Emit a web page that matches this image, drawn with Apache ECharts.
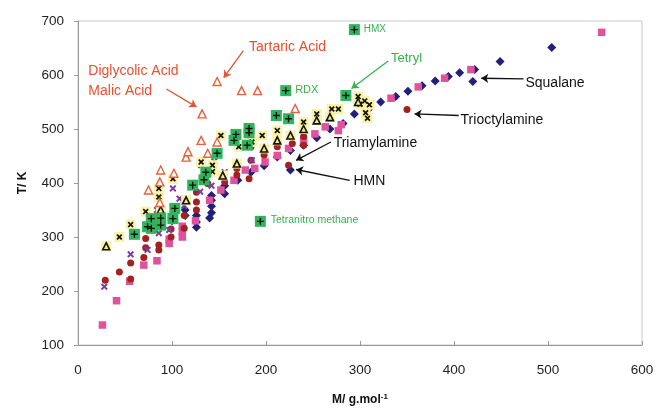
<!DOCTYPE html>
<html>
<head>
<meta charset="utf-8">
<script src="https://cdn.jsdelivr.net/npm/echarts@6/dist/echarts.min.js"></script>
<style>
  html, body { margin: 0; padding: 0; background: #fff; }
  #chart { width: 658px; height: 412px; }
</style>
</head>
<body>
<div id="chart"></div>
<script>
// [M g/mol, T K]
const navyDiamonds = [
  [100, 330], [114, 340], [114, 350], [126, 318], [126, 328], [126, 340], [140, 335], [142, 345],
  [142, 357], [142, 368], [142, 377], [156, 380], [156, 395], [170, 405], [184, 420], [198, 432],
  [212, 448], [226, 424], [226, 460], [240, 470], [254, 484], [268, 500], [282, 510], [294, 528],
  [310, 538], [322, 550], [338, 560], [351, 570], [366, 580], [380, 589], [394, 597], [406, 604],
  [420, 588], [422, 610], [449, 625], [504, 651]
];
const pinkSquares = [
  [26, 137], [41, 182], [55, 218], [70, 248], [84, 256], [97, 288], [97, 296], [111, 300],
  [111, 310], [111, 320], [125, 330], [140, 368], [152, 387], [166, 405], [178, 424], [188, 427],
  [199, 439], [212, 451], [224, 464], [240, 479], [252, 491], [263, 504], [277, 497], [280, 508],
  [307, 540], [333, 557], [362, 578], [390, 594], [418, 610], [557, 679]
];
const redCircles = [
  [29, 220], [44, 235], [56, 222], [56, 252], [70, 262], [72, 280], [72, 297], [86, 276],
  [86, 285], [99, 300], [99, 315], [99, 335], [113, 316], [113, 340], [113, 365], [126, 350],
  [126, 365], [126, 383], [138, 399], [156, 402], [169, 415], [169, 427], [182, 408], [184, 442],
  [184, 467], [198, 452], [212, 467], [224, 433], [228, 473], [240, 470], [240, 486], [350, 536]
];
const purpleCrosses = [
  [28, 208], [56, 268], [74, 276], [86, 307], [84, 350], [84, 375], [97, 313], [101, 390],
  [108, 371], [113, 358], [130, 384], [131, 433], [142, 395], [145, 440], [156, 420], [185, 442]
];
const blackCrosses = [
  [44, 300], [56, 323], [72, 347], [86, 374], [86, 390], [101, 408], [131, 439], [143, 421],
  [143, 433], [152, 488], [171, 467], [185, 476], [196, 488], [212, 497], [240, 513], [254, 528],
  [270, 537], [277, 537], [298, 560], [300, 546], [305, 552], [310, 545], [306, 530], [308, 520]
];
const blackTriangles = [
  [30, 283], [88, 350], [115, 368], [154, 414], [169, 436], [198, 464], [212, 479], [226, 488],
  [240, 500], [254, 516], [268, 522], [298, 550]
];
const orangeTriangles = [
  [75, 387], [87, 402], [87, 364], [88, 424], [102, 418], [115, 448], [117, 458], [131, 479],
  [132, 528], [138, 455], [148, 476], [148, 588], [174, 571], [191, 571], [231, 538]
];
const greenSquares = [
  [60, 305], [74, 319], [78, 316], [78, 334], [88, 322], [88, 335], [101, 334], [103, 353],
  [122, 396], [134, 406], [136, 420], [148, 455], [166, 479], [168, 490], [180, 470], [182, 493],
  [182, 501], [194, 329], [211, 525], [221, 571], [224, 519], [285, 562], [294, 684]
];

const xTicks = [0, 100, 200, 300, 400, 500, 600];
const yTicks = [100, 200, 300, 400, 500, 600, 700];

// annotation texts: [x, y, text, colour, size]
const RED = '#e8502f', GREEN = '#35b24f', BLACK = '#111';
const notes = [
  [182, 652, 'Tartaric Acid', RED, 14],
  [11, 608, 'Diglycolic Acid', RED, 14],
  [11, 571, 'Malic Acid', RED, 14],
  [231, 572, 'RDX', GREEN, 11],
  [304, 685, 'HMX', GREEN, 10],
  [333, 630, 'Tetryl', GREEN, 13],
  [476, 584, 'Squalane', BLACK, 14],
  [407, 517, 'Trioctylamine', BLACK, 14],
  [272, 473, 'Triamylamine', BLACK, 14],
  [293, 403, 'HMN', BLACK, 14],
  [205, 331, 'Tetranitro methane', GREEN, 10.5]
];
const arrows = [
  [[176, 645], [155, 595], RED],
  [[94, 574], [126, 541], RED],
  [[330, 626], [291, 575], GREEN],
  [[474, 593], [429, 594], BLACK],
  [[405, 525], [358, 528], BLACK],
  [[269, 476], [232, 442], BLACK],
  [[289, 405], [232, 425], BLACK]
];

const X_PATH = 'path://M2,0 L5,3 L8,0 L10,2 L7,5 L10,8 L8,10 L5,7 L2,10 L0,8 L3,5 L0,2 Z';
const PLUS_PATH = 'path://M4,0 H6 V4 H10 V6 H6 V10 H4 V6 H0 V4 H4 Z';
const FONT = 'Liberation Sans, Arial, sans-serif';

function dots(data, symbol, size, style) {
  return { type: 'scatter', data, symbol, symbolSize: size, itemStyle: Object.assign({ opacity: 1 }, style) };
}

const chart = echarts.init(document.getElementById('chart'));
chart.setOption({
  animation: false,
  textStyle: { fontFamily: FONT },
  grid: { left: 78, right: 16, top: 21, bottom: 67, show: true, borderColor: '#c8c8c8', borderWidth: 1 },
  xAxis: {
    type: 'value', min: xTicks[0], max: xTicks[xTicks.length - 1], interval: 100,
    name: '{a|M/ g.mol}{b|-1}', nameLocation: 'middle', nameGap: 48,
    nameTextStyle: {
      rich: {
        a: { fontSize: 12, fontWeight: 'bold', color: '#111', fontFamily: FONT },
        b: { fontSize: 8, fontWeight: 'bold', color: '#111', fontFamily: FONT, verticalAlign: 'top', padding: [0, 0, 6, 0] }
      }
    },
    axisLine: { lineStyle: { color: '#999' } },
    axisTick: { inside: true, length: 4, lineStyle: { color: '#999' } },
    axisLabel: { fontSize: 13.5, color: '#222', margin: 18 },
    splitLine: { show: false }
  },
  yAxis: {
    type: 'value', min: yTicks[0], max: yTicks[yTicks.length - 1], interval: 100,
    name: 'T/ K', nameLocation: 'middle', nameGap: 49,
    nameTextStyle: { fontSize: 12, fontWeight: 'bold', color: '#111' },
    axisLine: { show: true, lineStyle: { color: '#999' } },
    axisTick: { show: true, length: 4, lineStyle: { color: '#999' } },
    axisLabel: { fontSize: 13.5, color: '#222', margin: 14 },
    splitLine: { show: false }
  },
  series: [
    dots(navyDiamonds, 'diamond', 9, { color: '#22207a' }),
    dots(pinkSquares, 'rect', 7.5, { color: '#e0529c' }),
    dots(redCircles, 'circle', 7, { color: '#a3211f' }),
    dots(purpleCrosses, X_PATH, 7, { color: '#7a3e9c' }),
    // yellow backdrop behind the black crosses and black triangles
    dots(blackCrosses, 'rect', 10, { color: '#fbf3a4' }),
    dots(blackTriangles, 'rect', 10, { color: '#fbf3a4' }),
    dots(blackCrosses, X_PATH, 6, { color: '#111' }),
    dots(blackTriangles, 'triangle', 7, { color: '#f5e98a', borderColor: '#111', borderWidth: 1.6 }),
    dots(orangeTriangles, 'triangle', 8, { color: '#fff', borderColor: '#e8603c', borderWidth: 1.4 }),
    dots(greenSquares, 'rect', 11, { color: '#2fb45c' }),
    dots(greenSquares, PLUS_PATH, 7, { color: '#111' }),
    {
      type: 'lines', coordinateSystem: 'cartesian2d', symbol: ['none', 'arrow'], symbolSize: 7, z: 5,
      data: arrows.map(a => ({ coords: [a[0], a[1]], lineStyle: { color: a[2], width: 1.3, opacity: 1 } }))
    },
    {
      type: 'scatter', symbolSize: 0, z: 5, silent: true, itemStyle: { opacity: 1 },
      data: notes.map(n => ({
        value: [n[0], n[1]], name: n[2],
        label: { show: true, position: 'right', distance: 0, formatter: '{b}', color: n[3], fontSize: n[4], fontFamily: FONT }
      }))
    }
  ]
});
</script>
</body>
</html>
